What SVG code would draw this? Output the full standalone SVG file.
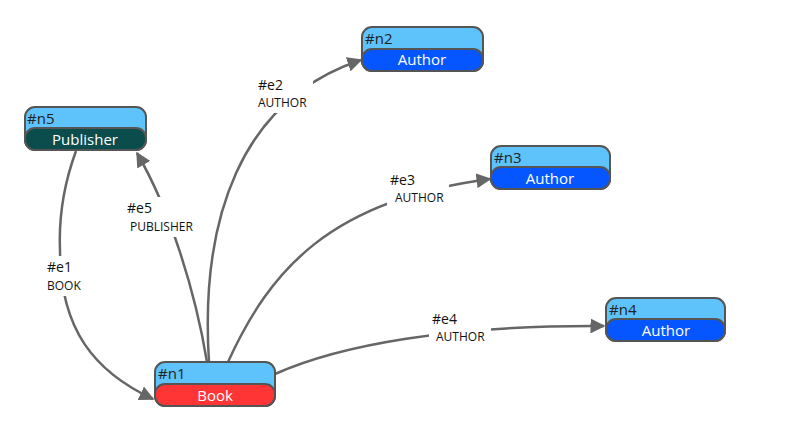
<svg xmlns="http://www.w3.org/2000/svg" width="810" height="431" viewBox="0 0 810 431">
<defs>
<marker id="arr" viewBox="0 0 10 10" refX="9" refY="5" markerWidth="6" markerHeight="6" orient="auto" markerUnits="strokeWidth">
<path d="M0,0 L10,5 L0,10 z" fill="#666"/>
</marker>
<style>
.edge{fill:none;stroke:#666;stroke-width:2.5;marker-end:url(#arr)}
.lbg{fill:#fff}
.el{font-family:"Open Sans","Noto Sans",sans-serif;font-size:14px;fill:#111}
.et{font-family:"Open Sans","Noto Sans",sans-serif;font-size:12px;fill:#111}
.top{fill:#5ec3fa;stroke:#555;stroke-width:2}
.bot{stroke:#555;stroke-width:2}
.id{font-family:"Open Sans","Noto Sans",sans-serif;font-size:15px;fill:#222}
.nm{font-family:"Open Sans","Noto Sans",sans-serif;font-size:15px;fill:#fff;text-anchor:middle}
</style>
</defs>
<rect width="810" height="431" fill="#fff"/>
<g id="edges">
<path class="edge" d="M76,151 Q58,200 60,250 C60,330 95,372 153,399"/>
<path class="edge" d="M207,362 C195,290 170,210 137,153"/>
<path class="edge" d="M209,362 C200,220 240,100 361,60"/>
<path class="edge" d="M228,362 C270,270 330,200 490,179"/>
<path class="edge" d="M275,374 C340,345 450,325 604,326"/>
<g id="edge-labels">
<rect class="lbg" x="44" y="256" width="44" height="40"/>
<text class="el" x="47" y="272">#e1</text><text class="et" x="47" y="290">BOOK</text>
<rect class="lbg" x="125" y="197" width="74" height="40"/>
<text class="el" x="127" y="213">#e5</text><text class="et" x="130" y="231">PUBLISHER</text>
<rect class="lbg" x="255" y="74" width="58" height="39"/>
<text class="el" x="258" y="90">#e2</text><text class="et" x="258" y="107">AUTHOR</text>
<rect class="lbg" x="387" y="169" width="62" height="38"/>
<text class="el" x="390" y="185">#e3</text><text class="et" x="395" y="202">AUTHOR</text>
<rect class="lbg" x="429" y="308" width="62" height="38"/>
<text class="el" x="432" y="324">#e4</text><text class="et" x="436" y="341">AUTHOR</text>
</g>
</g>
<g id="n5">
<rect class="top" x="25" y="107" width="121" height="43" rx="10"/>
<rect class="bot" x="25" y="128" width="121" height="22" rx="10" fill="#0b4c4d"/>
<text class="id" x="27" y="124">#n5</text>
<text class="nm" x="85" y="145">Publisher</text>
</g>
<g id="n1">
<rect class="top" x="155" y="362" width="120" height="44" rx="10"/>
<rect class="bot" x="155" y="384" width="120" height="22" rx="10" fill="#ff3535"/>
<text class="id" x="158" y="379">#n1</text>
<text class="nm" x="215" y="401">Book</text>
</g>
<g id="n2">
<rect class="top" x="362" y="27" width="121" height="44" rx="10"/>
<rect class="bot" x="362" y="49" width="121" height="22" rx="10" fill="#0656ff"/>
<text class="id" x="365" y="44">#n2</text>
<text class="nm" x="422" y="65">Author</text>
</g>
<g id="n3">
<rect class="top" x="491" y="146" width="119" height="43" rx="10"/>
<rect class="bot" x="491" y="167" width="119" height="22" rx="10" fill="#0656ff"/>
<text class="id" x="494" y="163">#n3</text>
<text class="nm" x="550" y="184">Author</text>
</g>
<g id="n4">
<rect class="top" x="606" y="298" width="119" height="43" rx="10"/>
<rect class="bot" x="606" y="319" width="119" height="22" rx="10" fill="#0656ff"/>
<text class="id" x="609" y="315">#n4</text>
<text class="nm" x="666" y="336">Author</text>
</g>
</svg>
